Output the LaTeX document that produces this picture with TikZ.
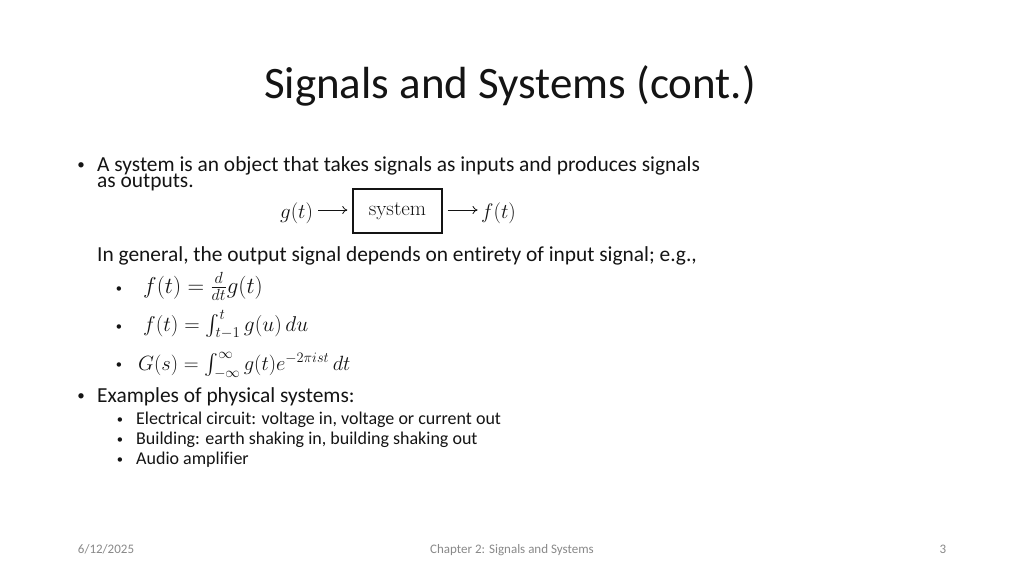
\RequirePackage{fix-cm}
\documentclass[tikz,border=0pt]{standalone}
\usepackage{exscale}
\usepackage[no-math]{fontspec}
\setmainfont{Carlito}[Ligatures={NoCommon}]
\usetikzlibrary{arrows.meta}
\definecolor{footgray}{RGB}{137,137,137}
\definecolor{ink}{RGB}{20,20,20}
\begin{document}
\begin{tikzpicture}[x=1pt,y=-1pt,
  every node/.style={inner sep=0pt, text=ink},
  title/.style={anchor=base, font=\fontsize{45}{50}\selectfont},
  txt/.style={anchor=base west, font=\fontsize{21.4}{24}\selectfont},
  sub/.style={anchor=base west, font=\fontsize{18}{20}\selectfont},
  mth/.style={anchor=base west},
  dmth/.style={anchor=base west, font=\fontsize{21}{25}\selectfont},
  bul/.style={anchor=base, font=\fontsize{15}{18}\selectfont},
  sbul/.style={anchor=base, font=\fontsize{12.5}{15}\selectfont},
  foot/.style={anchor=base, text=footgray, font=\fontsize{13}{15}\selectfont},
  sysbox/.style={draw=ink, line width=1.1pt, minimum width=89pt, minimum height=44pt, font=\fontsize{21}{25}\selectfont},
  flow/.style={draw=ink, line width=0.8pt, -{To[length=5pt,width=8pt]}}]
\useasboundingbox[fill=white] (0,0) rectangle (1024,576);

\node[title] (title) at (510,98) {Signals and Systems (cont.)};

\node[bul] (b1) at (81,169) {•};
\node[txt] (l1) at (97,171) {A system is an object that takes signals as inputs and produces signals};
\node[txt] (l2) at (97,187) {as outputs.};

\node[sysbox] (sys) at (397.5,211) {$\mathrm{system}$};
\node[dmth] (g) at (280,218) {$g(t)$};
\node[dmth] (f) at (481,218) {$f(t)$};
\draw[flow] ([xshift=5pt]g.east |- sys.center) ++(0,-1) -- ++(29,0) coordinate (ga);
\draw[flow] ([xshift=5pt]sys.east) ++(0,-1) -- ++(30,0) coordinate (fa);

\node[txt] (l3) at (97,261) {In general, the output signal depends on entirety of input signal; e.g.,};

\node[sbul] (m1b) at (119,292) {•};
\node[mth, font=\fontsize{23}{27}\selectfont] (m1) at (143,293) {$f(t)=\frac{d}{dt}g(t)$};
\node[sbul] (m2b) at (119,330) {•};
\node[mth, font=\fontsize{21.4}{25}\selectfont] (m2) at (143,331) {$f(t)=\int_{t-1}^{t}g(u)\,du$};
\node[sbul] (m3b) at (119,368) {•};
\node[mth, font=\fontsize{20.6}{24}\selectfont] (m3) at (138,370) {$G(s)=\int_{-\infty}^{\infty}g(t)e^{-2\pi ist}\,dt$};

\node[bul] (b2) at (81,400) {•};
\node[txt] (l4) at (97,402) {Examples of physical systems:};
\node[sbul] (s1b) at (120,423) {•};
\node[sub] (s1) at (136,424) {Electrical circuit: voltage in, voltage or current out};
\node[sbul] (s2b) at (120,443) {•};
\node[sub] (s2) at (136,444) {Building: earth shaking in, building shaking out};
\node[sbul] (s3b) at (120,463) {•};
\node[sub] (s3) at (136,464) {Audio amplifier};

\node[foot] (date) at (106,553) {6/12/2025};
\node[foot] (chap) at (512,553) {Chapter 2: Signals and Systems};
\node[foot] (page) at (943,553) {3};
\end{tikzpicture}
\end{document}
